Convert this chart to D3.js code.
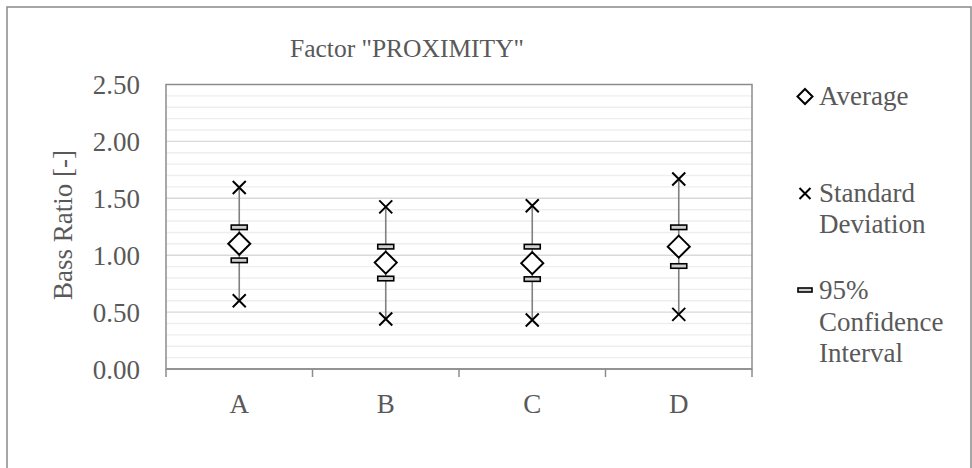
<!DOCTYPE html>
<html>
<head>
<meta charset="utf-8">
<script src="https://cdn.jsdelivr.net/npm/d3@7"></script>
<style>
  html, body { margin: 0; padding: 0; background: #fff; }
  svg { display: block; }
  text { font-family: "Liberation Serif", "DejaVu Serif", serif; fill: #595959; }
</style>
</head>
<body>
<svg id="chart" width="972" height="468"></svg>
<script>
const categories = ["A", "B", "C", "D"];
const average    = [1.10, 0.935, 0.93, 1.075];
const sdHigh     = [1.595, 1.425, 1.435, 1.67];
const sdLow      = [0.60, 0.44, 0.43, 0.48];
const ciHigh     = [1.245, 1.075, 1.075, 1.245];
const ciLow      = [0.955, 0.795, 0.79, 0.905];
const yTicks     = [0, 0.5, 1.0, 1.5, 2.0, 2.5];
const legendItems = [
  { type: "diamond", lines: ["Average"] },
  { type: "cross", lines: ["Standard", "Deviation"] },
  { type: "ci", lines: ["95%", "Confidence", "Interval"] }
];

const svg = d3.select("#chart");
const plot = { left: 166, right: 752, top: 84.5, bottom: 369 };

// outer chart border (extends beyond bottom edge)
svg.append("rect")
  .attr("x", 7).attr("y", 7).attr("width", 964).attr("height", 480)
  .attr("fill", "#fff").attr("stroke", "#898989").attr("stroke-width", 1.5);

const x = d3.scaleBand().domain(categories).range([plot.left, plot.right]);
const y = d3.scaleLinear().domain([0, 2.5]).range([plot.bottom, plot.top]);

// minor gridlines
const minor = d3.range(0, 26).map(i => i / 10).filter(v => Math.round(v * 10) % 5 !== 0);
svg.append("g").selectAll("line").data(minor).join("line")
  .attr("x1", plot.left).attr("x2", plot.right)
  .attr("y1", d => y(d)).attr("y2", d => y(d))
  .attr("stroke", "#eeeeee").attr("stroke-width", 1.4);

// major gridlines
svg.append("g").selectAll("line").data(yTicks.slice(1, -1)).join("line")
  .attr("x1", plot.left).attr("x2", plot.right)
  .attr("y1", d => y(d)).attr("y2", d => y(d))
  .attr("stroke", "#d9d9d9").attr("stroke-width", 1.4);

// plot border
svg.append("rect")
  .attr("x", plot.left).attr("y", plot.top)
  .attr("width", plot.right - plot.left).attr("height", plot.bottom - plot.top)
  .attr("fill", "none").attr("stroke", "#8c8c8c").attr("stroke-width", 1.5);

// y-axis labels
const yAxis = d3.axisLeft(y).tickValues(yTicks).tickFormat(d3.format(".2f")).tickSize(0).tickPadding(26);
const gy = svg.append("g").attr("transform", `translate(${plot.left},0)`).call(yAxis);
gy.select(".domain").remove();
gy.selectAll("text").attr("font-size", 27).attr("fill", "#595959")
  .attr("font-family", "Liberation Serif, serif").attr("dy", "0.34em");

// x-axis
const boundaries = categories.map(c => x(c)).concat([plot.right]);
svg.append("g").selectAll("line").data(boundaries).join("line")
  .attr("x1", d => d).attr("x2", d => d)
  .attr("y1", plot.bottom).attr("y2", plot.bottom + 8)
  .attr("stroke", "#8c8c8c").attr("stroke-width", 1.5);
svg.append("line")
  .attr("x1", plot.left).attr("x2", plot.right)
  .attr("y1", plot.bottom).attr("y2", plot.bottom)
  .attr("stroke", "#8c8c8c").attr("stroke-width", 1.5);
svg.append("g").selectAll("text").data(categories).join("text")
  .attr("x", d => x(d) + x.bandwidth() / 2).attr("y", 413)
  .attr("text-anchor", "middle").attr("font-size", 27)
  .text(d => d);

// title
svg.append("text").attr("x", 407).attr("y", 57)
  .attr("text-anchor", "middle").attr("font-size", 25.5)
  .text('Factor "PROXIMITY"');

// y title
svg.append("text").attr("transform", "translate(72,225) rotate(-90)")
  .attr("text-anchor", "middle").attr("font-size", 27)
  .text("Bass Ratio [-]");

// marker shapes
function diamond(g, cx, cy, r) {
  g.append("path")
    .attr("d", `M${cx},${cy - r}L${cx + r},${cy}L${cx},${cy + r}L${cx - r},${cy}Z`)
    .attr("fill", "#fff").attr("stroke", "#000").attr("stroke-width", 2);
}
function cross(g, cx, cy, r) {
  g.append("path")
    .attr("d", `M${cx - r},${cy - r}L${cx + r},${cy + r}M${cx - r},${cy + r}L${cx + r},${cy - r}`)
    .attr("fill", "none").attr("stroke", "#000").attr("stroke-width", 2);
}
function ciMark(g, cx, cy, w, h) {
  g.append("rect")
    .attr("x", cx - w / 2).attr("y", cy - h / 2).attr("width", w).attr("height", h)
    .attr("fill", "#d0d0d0").attr("stroke", "#000").attr("stroke-width", 1.6);
}

// data marks
const marks = svg.append("g");
categories.forEach((c, i) => {
  const cx = x(c) + x.bandwidth() / 2;
  marks.append("line")
    .attr("x1", cx).attr("x2", cx)
    .attr("y1", y(sdLow[i])).attr("y2", y(sdHigh[i]))
    .attr("stroke", "#808080").attr("stroke-width", 1.6);
  cross(marks, cx, y(sdHigh[i]), 6.5);
  cross(marks, cx, y(sdLow[i]), 6.5);
  ciMark(marks, cx, y(ciHigh[i]), 16, 4.5);
  ciMark(marks, cx, y(ciLow[i]), 16, 4.5);
  diamond(marks, cx, y(average[i]), 11);
});

// legend
const lg = svg.append("g");
const legendMarkY = [96.5, 193.5, 290];
const legendBase = [[105], [201.7, 233.3], [299, 330.5, 362]];
legendItems.forEach((item, i) => {
  if (item.type === "diamond") diamond(lg, 805, legendMarkY[i], 7.5);
  else if (item.type === "cross") cross(lg, 805, legendMarkY[i], 5.5);
  else ciMark(lg, 805, legendMarkY[i], 14, 4);
  item.lines.forEach((t, j) => {
    lg.append("text").attr("x", 819).attr("y", legendBase[i][j])
      .attr("font-size", 27).text(t);
  });
});
</script>
</body>
</html>
